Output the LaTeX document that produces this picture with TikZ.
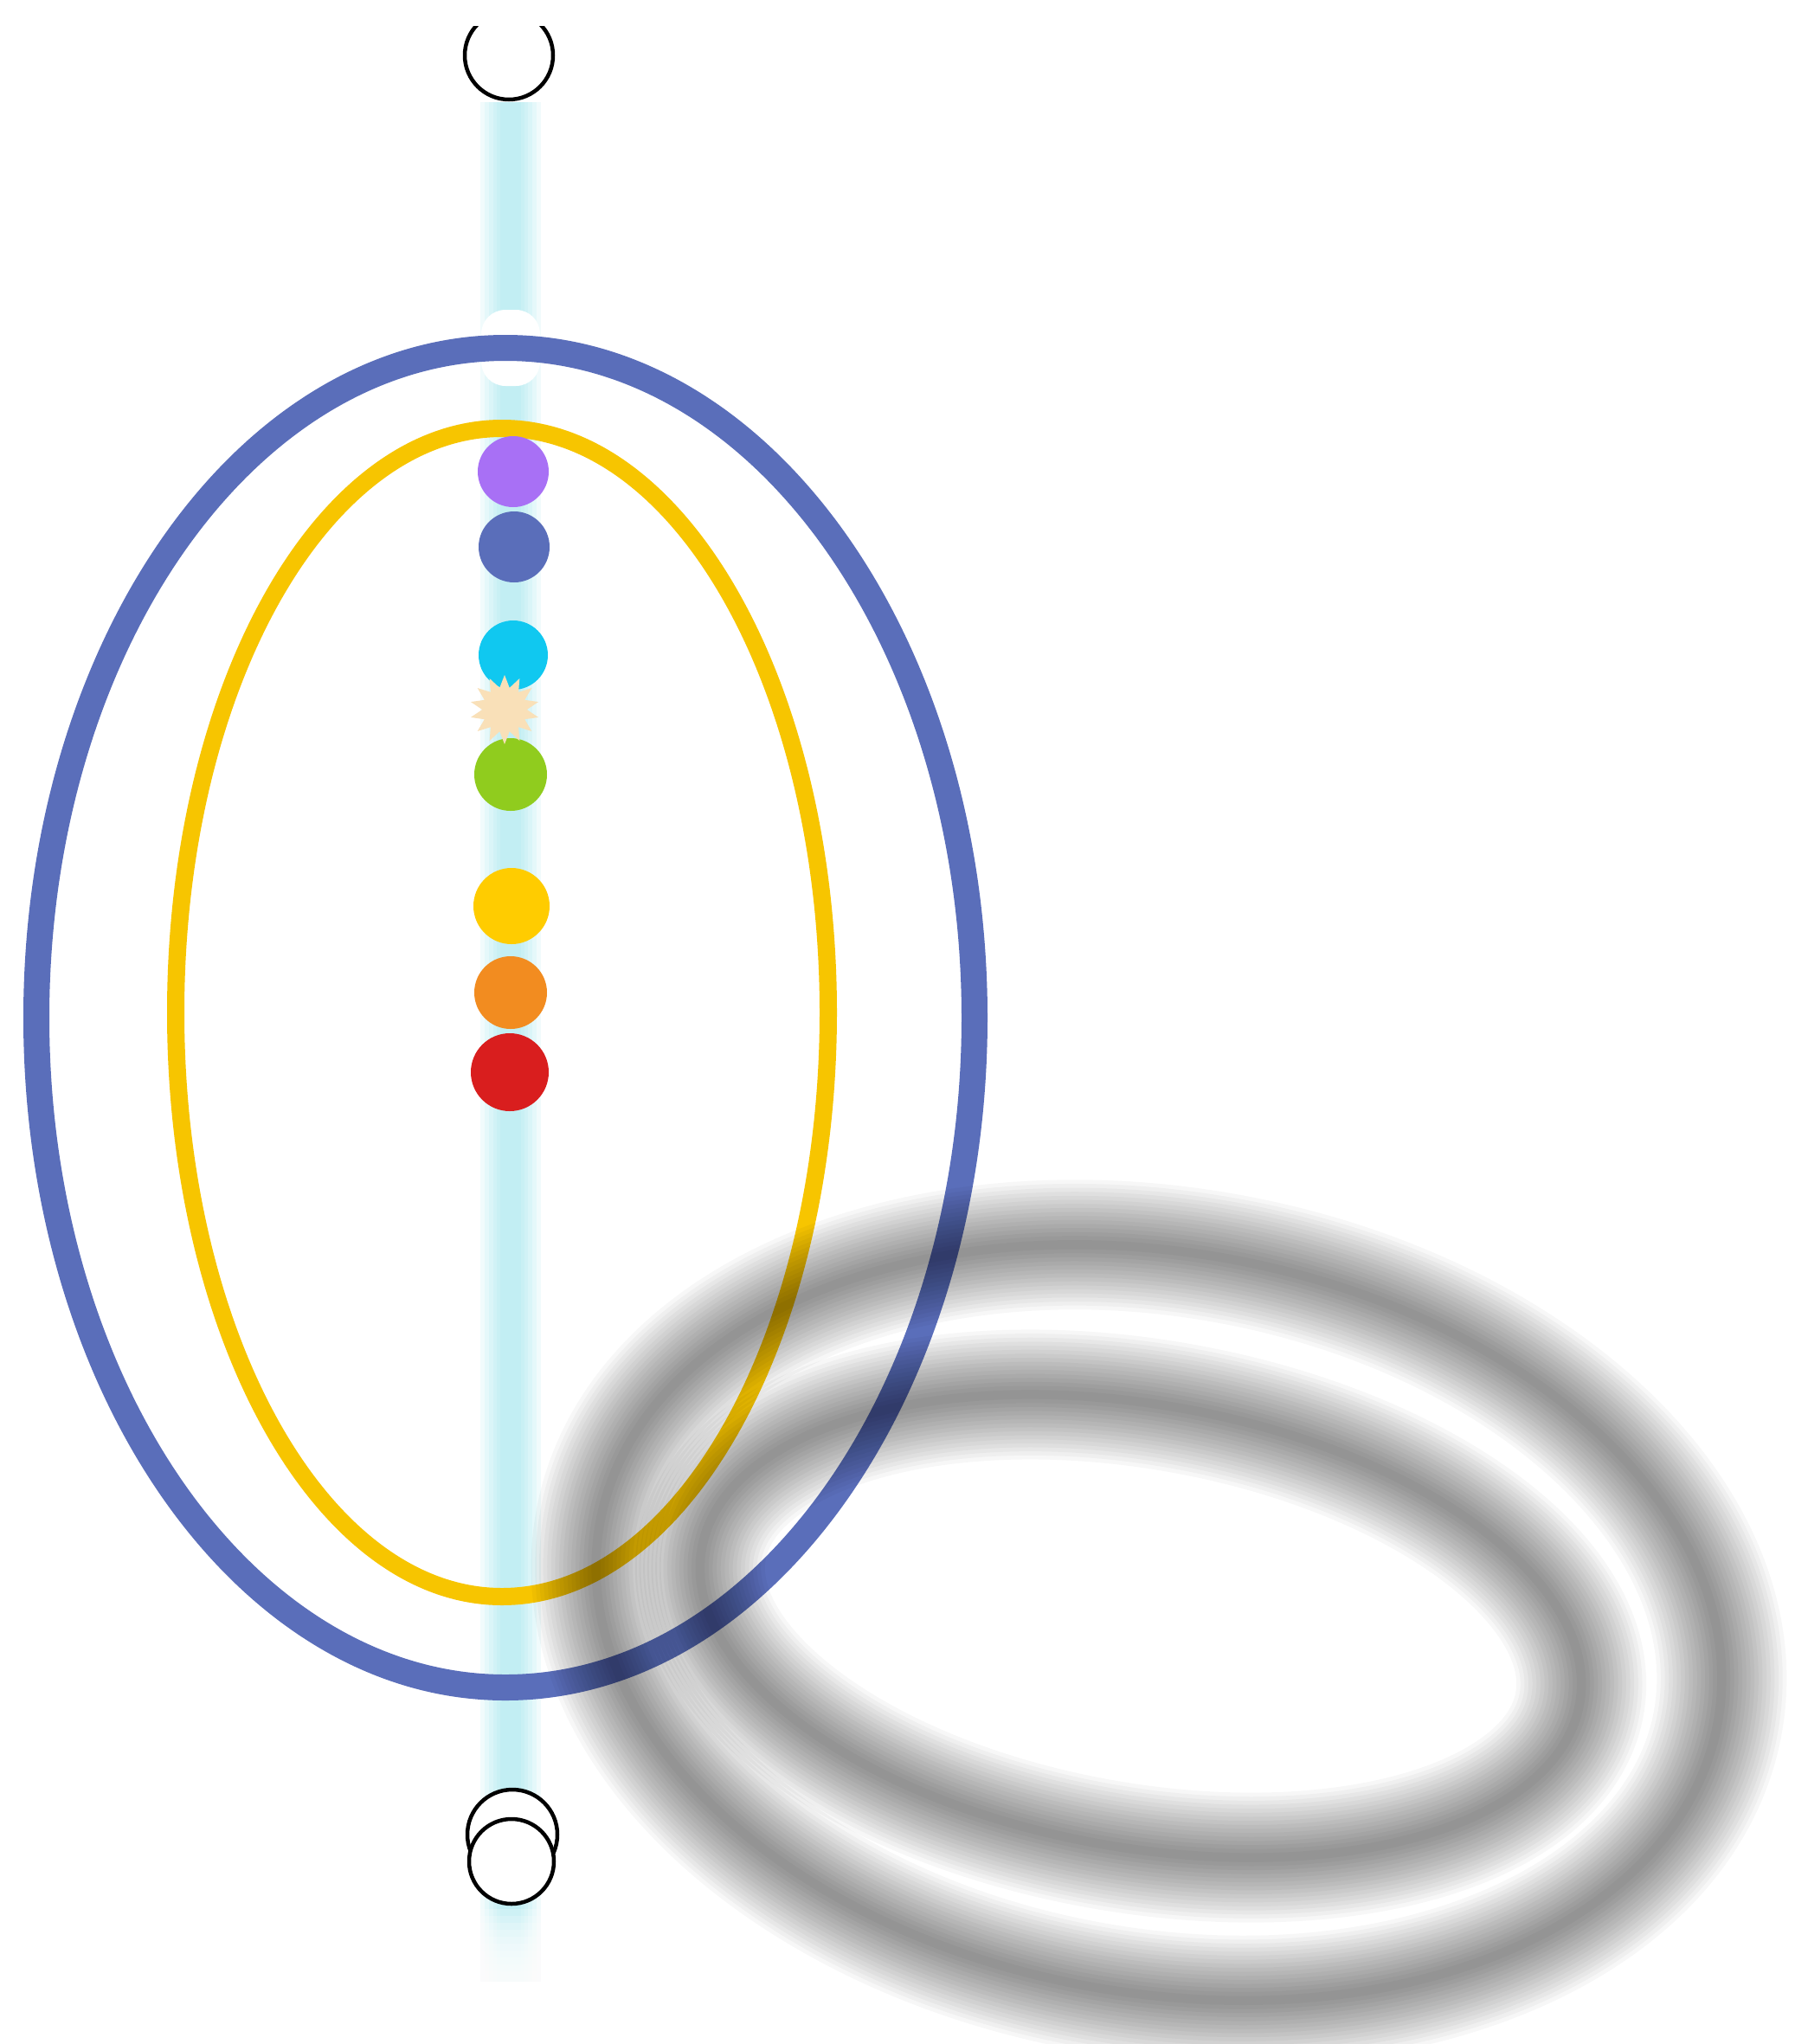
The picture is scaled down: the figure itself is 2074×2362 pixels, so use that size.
\documentclass[tikz,border=0pt]{standalone}
\usetikzlibrary{shapes.geometric}
\definecolor{ringblue}{RGB}{90,110,186}
\definecolor{ringyellow}{RGB}{247,197,0}
\definecolor{cyanline}{RGB}{150,228,238}
\definecolor{dpurple}{RGB}{168,112,245}
\definecolor{dcyan}{RGB}{16,200,240}
\definecolor{dstar}{RGB}{249,224,184}
\definecolor{dgreen}{RGB}{144,204,30}
\definecolor{dyellow}{RGB}{255,204,0}
\definecolor{dorange}{RGB}{242,140,32}
\definecolor{dred}{RGB}{217,30,30}
\begin{document}
\begin{tikzpicture}[x=1pt,y=-1pt,
  dot/.style={circle, inner sep=0pt, draw=none, fill=#1},
  ring/.style={circle, inner sep=0pt, minimum size=102pt, draw=black, line width=4.5pt, fill=white},
  blueellipse/.style={ringblue, line width=30pt},
  yellowellipse/.style={ringyellow, line width=20pt},
  shadowlayer/.style={black, opacity=0.03, line width=#1},
]
\useasboundingbox (0,0) rectangle (2074,2362);
\fill[white] (0,0) rectangle (2074,2362);

% axis glow
\coordinate (axtop) at (590,118);
\coordinate (axbot) at (590,2290);
\foreach \w in {70,60,50,40,32,24}
  \draw[cyanline, line width=\w pt, opacity=0.13] (axtop) -- (axbot);
\foreach \i in {0,...,9}
  \fill[white, opacity=0.2] (540,2206+8*\i) rectangle (640,2300);
\fill[white, rounded corners=28pt] (556,358) rectangle (624,446);

% top circle (clipped at top)
\begin{scope}
  \clip (0,30) rectangle (2074,2362);
  \node[ring] (top) at (588,64) {};
\end{scope}

% ellipses
\draw[blueellipse] (584,1176) ellipse [x radius=542, y radius=774];
\draw[yellowellipse] (580,1170) ellipse [x radius=377, y radius=675];

% dots
\node[dot=dpurple, minimum size=82pt] (purple) at (593,545) {};
\node[dot=ringblue, minimum size=82pt] (blue) at (594,632) {};
\node[dot=dcyan, minimum size=80pt] (cyan) at (593,757) {};
\node[dot=dgreen, minimum size=84pt] (green) at (590,895) {};
\node[star, star points=14, star point ratio=1.55, fill=dstar, minimum size=80pt, inner sep=0pt] (burst) at (583,820) {};
\node[dot=dyellow, minimum size=88pt] (yellow) at (591,1047) {};
\node[dot=dorange, minimum size=84pt] (orange) at (590,1147) {};
\node[dot=dred, minimum size=90pt] (red) at (589,1239) {};

% bottom circles
\node[ring, minimum size=104pt] (botA) at (592,2120) {};
\node[ring, minimum size=98pt] (botB) at (591,2151) {};

% blurred shadow
\foreach \k in {0,...,15} {
  \pgfmathsetmacro\w{150-9.3*\k}
  \draw[shadowlayer=\w pt, rotate around={-10:(1339,1875)}] (1339,1875) ellipse [x radius=656, y radius=428];
  \draw[shadowlayer=\w pt, rotate around={-10:(1318,1879)}] (1318,1879) ellipse [x radius=515, y radius=256];
}
\end{tikzpicture}
\end{document}
